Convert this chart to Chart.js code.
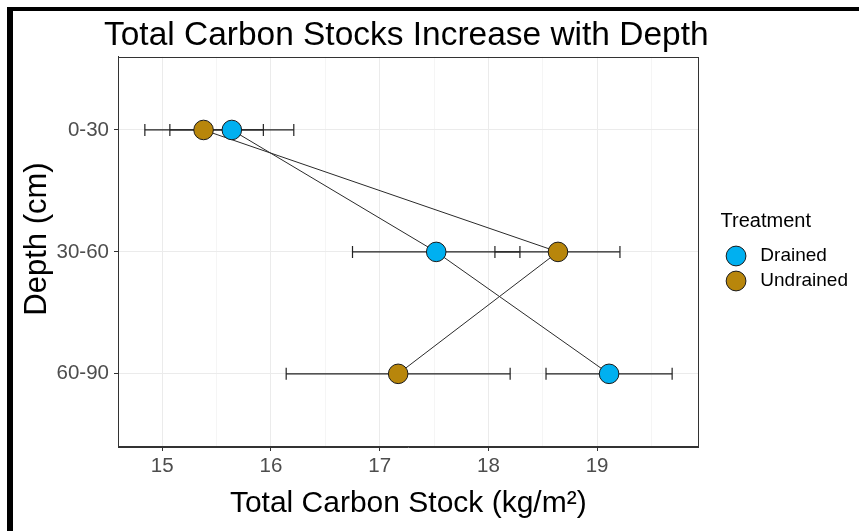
<!DOCTYPE html>
<html>
<head>
<meta charset="utf-8">
<script src="https://cdn.jsdelivr.net/npm/chart.js@4"></script>
<style>
  body { margin: 0; background: #fff; }
  #wrap { position: relative; width: 859px; height: 531px; overflow: hidden; }
  #frame { position: absolute; left: 7px; top: 7px; width: 860px; height: 540px;
           border-top: 4px solid #000; border-left: 6px solid #000; pointer-events: none; }
  canvas { position: absolute; left: 0; top: 0; }
</style>
</head>
<body>
<div id="wrap">
  <canvas id="chart" width="859" height="531"></canvas>
  <div id="frame"></div>
</div>
<script>
const depths = ['0-30', '30-60', '60-90'];
const treatments = ['Drained', 'Undrained'];

const drainedMean = [15.64, 17.52, 19.11];
const drainedLow = [15.07, 16.75, 18.53];
const drainedHigh = [16.21, 18.29, 19.69];

const undrainedMean = [15.38, 18.64, 17.17];
const undrainedLow = [14.84, 18.06, 16.14];
const undrainedHigh = [15.93, 19.21, 18.20];

const xTicks = [15, 15.5, 16, 16.5, 17, 17.5, 18, 18.5, 19, 19.5];

const blue = '#00B0F0';
const gold = '#B8860B';
const ink = '#333333';

Chart.defaults.font.family = '"Liberation Sans", Arial, sans-serif';

// one point per depth, depth drawn as 1..3 on a reversed linear scale
function points(vals) {
    return vals.map((v, i) => ({x: v, y: i + 1}))
}

// error bars: two caps per depth, null between them breaks the line
function bars(lo, hi) {
    const out = [];
    lo.forEach((l, i) => {
        out.push({x: l, y: i + 1}, {x: hi[i], y: i + 1}, {x: null, y: null})
    });
    return out
}

function pointSet(name, vals, color) {
    return {
        label: name, data: points(vals), showLine: false,
        backgroundColor: color, borderColor: '#1a1a1a', borderWidth: 1,
        pointRadius: 9.8, pointHoverRadius: 9.8
    }
}

function lineSet(vals) {
    return {
        label: '', data: points(vals), showLine: true,
        borderColor: '#2a2a2a', borderWidth: 1, pointRadius: 0
    }
}

function errSet(lo, hi) {
    return {
        label: '', data: bars(lo, hi), showLine: true, spanGaps: false,
        borderColor: '#222', borderWidth: 1.2,
        pointStyle: 'line', rotation: 90, pointRadius: 6,
        pointBorderColor: '#222', pointBorderWidth: 1.2
    }
}

const panelBorder = {
    id: 'panelBorder',
    beforeDraw(chart) {
        // nudge the legend block to sit beside the panel like the original
        const lg = chart.legend;
        lg.left += 22;
        lg.right += 22;
        lg.top -= 34;
        // let the title run a little wider than the panel
        const tb = chart.titleBlock;
        tb.left -= 14;
        tb.right += 10;
        tb.width = tb.right - tb.left;
    },
    afterDraw(chart) {
        const {ctx, chartArea: a} = chart;
        ctx.save();
        ctx.strokeStyle = ink;
        ctx.lineWidth = 1;
        ctx.strokeRect(Math.round(a.left) + 0.5, Math.round(a.top) + 0.5,
            Math.round(a.right - a.left) - 1, Math.round(a.bottom - a.top) - 1);
        ctx.restore();
    }
};

new Chart(document.getElementById('chart'), {
    type: 'scatter',
    data: {
        datasets: [
            pointSet(treatments[0], drainedMean, blue),
            pointSet(treatments[1], undrainedMean, gold),
            lineSet(drainedMean),
            lineSet(undrainedMean),
            errSet(drainedLow, drainedHigh),
            errSet(undrainedLow, undrainedHigh)
        ]
    },
    plugins: [panelBorder],
    options: {
        responsive: false,
        animation: false,
        events: [],
        layout: {padding: {top: 15, left: 14, right: 23, bottom: 4}},
        plugins: {
            tooltip: {enabled: false},
            title: {
                display: true,
                text: 'Total Carbon Stocks Increase with Depth',
                fullSize: false,
                color: '#000',
                font: {size: 34, weight: 'normal'},
                padding: {top: 0, bottom: 1}
            },
            legend: {
                position: 'right',
                align: 'center',
                title: {
                    display: true, text: 'Treatment', color: '#000', position: 'start',
                    font: {size: 20}, padding: {top: 0, bottom: 5}
                },
                labels: {
                    usePointStyle: true, boxWidth: 19, boxHeight: 14,
                    color: '#000', font: {size: 19}, padding: 6,
                    generateLabels(chart) {
                        const items = Chart.defaults.plugins.legend.labels.generateLabels(chart);
                        return items.filter(it => it.datasetIndex < 2)
                            .map(it => ({...it, text: ' ' + it.text}))
                    }
                }
            }
        },
        scales: {
            x: {
                type: 'linear',
                min: 14.593,
                max: 19.933,
                afterBuildTicks: scale => { scale.ticks = xTicks.map(v => ({value: v})) },
                afterFit: scale => { scale.height = 80 },
                grid: {
                    color: c => (c.tick && c.tick.value % 1 === 0) ? '#EBEBEB' : '#F5F5F5',
                    tickColor: c => (c.tick && c.tick.value % 1 === 0) ? ink : 'rgba(0,0,0,0)',
                    tickLength: 4
                },
                border: {color: ink, width: 1},
                ticks: {
                    color: '#4D4D4D', font: {size: 20.5}, padding: 3, maxRotation: 0,
                    autoSkip: false,
                    callback: v => (v % 1 === 0 ? String(v) : '')
                },
                title: {
                    display: true, text: 'Total Carbon Stock (kg/m²)', color: '#000',
                    font: {size: 30}, padding: {top: 2, bottom: 5}
                }
            },
            y: {
                type: 'linear',
                reverse: true,
                min: 0.4,
                max: 3.6,
                afterBuildTicks: scale => { scale.ticks = depths.map((d, i) => ({value: i + 1})) },
                afterFit: scale => { scale.width = 104 },
                grid: {color: '#EBEBEB', tickColor: ink, tickLength: 4},
                border: {color: ink, width: 1},
                ticks: {
                    color: '#4D4D4D', font: {size: 20.5}, padding: 5,
                    callback: v => depths[v - 1]
                },
                title: {
                    display: true, text: '   Depth (cm)', color: '#000',
                    font: {size: 31}, padding: {top: 5, bottom: 0}
                }
            }
        }
    }
});
</script>
</body>
</html>
